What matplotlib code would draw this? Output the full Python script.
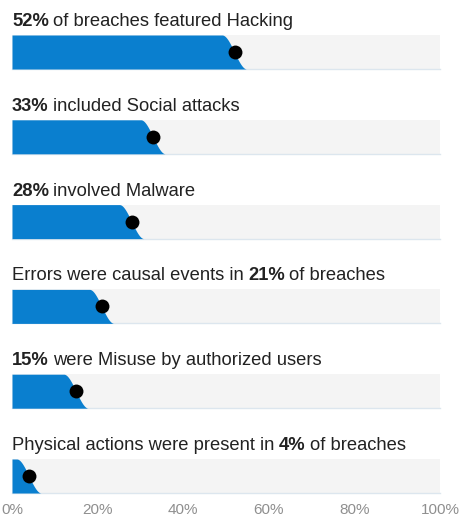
import numpy as np
import matplotlib.pyplot as plt

# share of breaches per action type (%)
values = [52, 33, 28, 21, 15, 4]
prefixes = ["", "", "", "Errors were causal events in", "", "Physical actions were present in"]
suffixes = ["of breaches featured Hacking", "included Social attacks", "involved Malware",
            "of breaches", "were Misuse by authorized users", "of breaches"]
tick_values = [0, 20, 40, 60, 80, 100]
tick_labels = ["0%", "20%", "40%", "60%", "80%", "100%"]

BLUE = "#0a7fcf"
GREY = "#f4f4f4"
TEXT = "#222222"
FONT = "Liberation Sans"
FS = 13.2
GAP = 3.2  # word gap between pieces, points

W, H = 467, 519
fig = plt.figure(figsize=(W / 100, H / 100), dpi=100)
ax = fig.add_axes([0, 0, 1, 1])
# map 0% -> 12 px, 100% -> 440 px
px = 428 / 100
ax.set_xlim(-12 / px, (W - 12) / px)
ax.set_ylim(H, 0)
ax.axis("off")

bar_h = 34
first_top = 35
step = 84.8

for i, v in enumerate(values):
    top = first_top + i * step
    bot = top + bar_h
    # grey track
    ax.fill_between([0, 100], top, bot, color=GREY, lw=0, zorder=1)
    ax.plot([0, 100], [bot, bot], color="#dce6ee", lw=1, zorder=2)
    # blue shape with smooth sloping edge
    x = np.linspace(0, v + 2.8, 300)
    t = np.clip((x - (v - 2.9)) / 5.7, 0, 1)
    s = t * t * (3 - 2 * t)
    ytop = top + s * bar_h
    ax.fill_between(x, ytop, bot, color=BLUE, lw=0, zorder=3)
    ax.scatter([v], [(top + bot) / 2], s=100, color="black", zorder=4, lw=0)

    # title, mixed weights, pieces chained on a common baseline
    pieces = []
    if prefixes[i]:
        pieces.append((prefixes[i], "normal"))
    pieces.append((f"{v}%", "bold"))
    pieces.append((suffixes[i], "normal"))
    base = top - 9
    prev = None
    for txt, wt in pieces:
        if prev is None:
            prev = ax.text(0, base, txt, fontsize=FS, family=FONT, fontweight=wt,
                           color=TEXT, va="baseline")
        else:
            prev = ax.annotate(txt, xy=(1, 0), xycoords=prev, xytext=(GAP, 0),
                               textcoords="offset points", fontsize=FS, family=FONT,
                               fontweight=wt, color=TEXT, va="bottom")

for tv, tl in zip(tick_values, tick_labels):
    ax.text(tv, 510, tl, fontsize=11, family=FONT, color="#8f8f8f", ha="center", va="center")

fig.savefig("out.png", dpi=100)
